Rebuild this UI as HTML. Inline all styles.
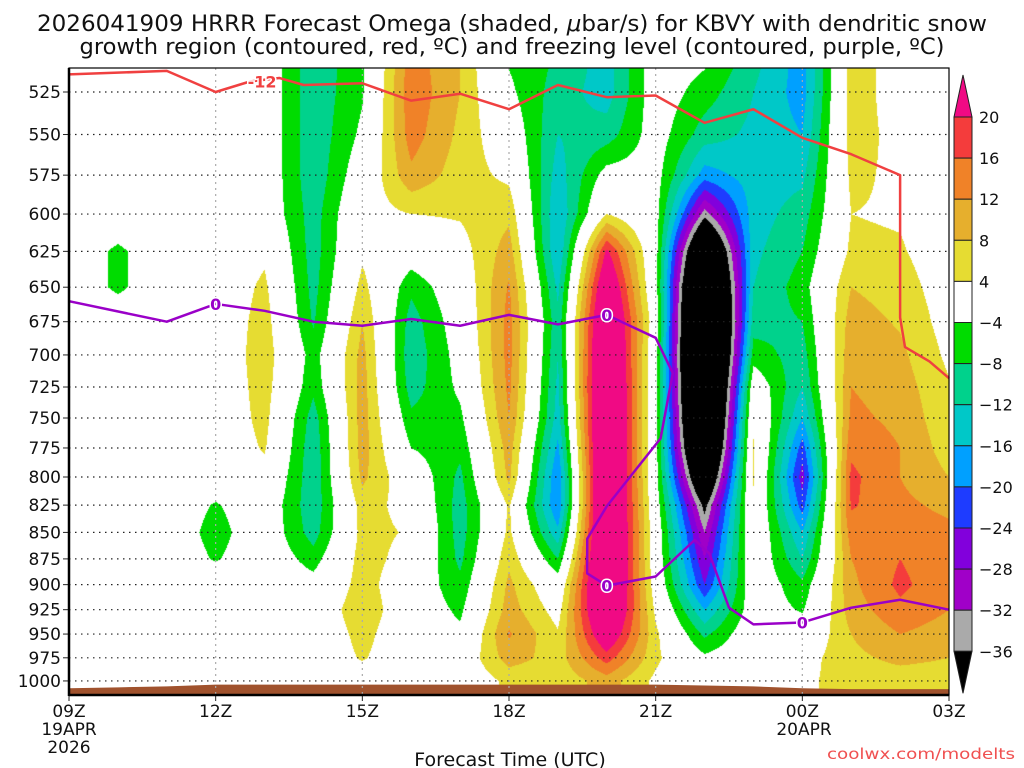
<!DOCTYPE html>
<html><head><meta charset="utf-8"><style>
html,body{margin:0;padding:0;background:#fff;width:1024px;height:768px;overflow:hidden}
#wrap{position:relative;width:1024px;height:768px}
#field{position:absolute;left:69px;top:68px}
#svg{position:absolute;left:0;top:0}
text{font-family:"DejaVu Sans","Liberation Sans",sans-serif;fill:#111}
</style></head><body>
<div id="wrap">
<canvas id="field" width="880" height="627"></canvas>
<svg id="svg" width="1024" height="768"></svg>
</div>
<script>
// ---- data ----
const hours = [9,10,11,12,13,14,15,16,17,18,19,20,21,22,23,24,25,26,27];
const hourLabels = ["09Z","12Z","15Z","18Z","21Z","00Z","03Z"];
const hourLabelVals = [9,12,15,18,21,24,27];
const pressures = [500,525,550,575,600,625,650,675,700,725,750,775,800,825,850,875,900,925,950,975,1000];
const pressureTicks = [525,550,575,600,625,650,675,700,725,750,775,800,825,850,875,900,925,950,975,1000];
const omega09 = [0,0,0,0,0,0,0,0,0,0,0,0,0,0,0,0,0,0,0,0,0];
const omega10 = [0,0,0,0,0,-5,-5,0,0,0,0,0,0,0,0,0,0,0,0,0,0];
const omega11 = [0,0,0,0,0,0,0,0,0,0,0,0,0,0,0,0,0,0,0,0,0];
const omega12 = [0,0,0,0,0,0,0,0,0,0,0,0,0,-4.5,-6,-4.5,0,0,0,0,0];
const omega13 = [0,0,0,0,0,3,5,6,6.5,6,5.5,4.5,2,0,0,0,0,0,0,0,0];
const omega14 = [-11,-11,-11,-11,-10,-10,-9.5,-8.5,-6,-7,-10,-11,-11,-11,-10,-6,-2,0,0,0,0];
const omega15 = [-5,-4.5,-3,-0.5,2,3,5.5,8,9.5,10,10,10,9,6,5.5,6,6,7,5.5,4.5,1];
const omega16 = [14,15,14,11,4,-1,-7,-10,-11,-10,-7,-4,0,2,3.5,2,0,0,0,0,0];
const omega17 = [8,8,7,6,4.5,2,0,-1,-2,-3,-5,-7,-9,-10,-10,-9,-7,-5,-3,0,0];
const omega18 = [-5,-3,0,3,7,10,12.5,13.5,13.5,13,12,10,9,4.5,5,7,9,10,12.5,10,5];
const omega19 = [-8,-10,-12,-14,-16,-16,-13,-11,-12,-13,-14,-17,-20,-20,-15,-8,-1,2,4.5,6,5];
const omega20 = [-14,-14,-10,-2,4,21,28,32,34,35,35,35,35,35,35,35,34,32,26,18,10];
const omega21 = [-1,-1,-1.5,-2,-2,-2,-2,0,-2,-2,-2,-2,-2,-1,0,0,1,3,5,5,3];
const omega22 = [-2,-6,-10,-18,-34,-55,-65,-70,-70,-68,-65,-60,-50,-38,-32,-28,-24,-16,-9,-3,0];
const omega23 = [-10,-12,-13,-14,-14,-13,-12,-10,-6,0,3,4.5,4.5,3,2,1,0,-1,0,0,0];
const omega00 = [-18,-18,-16,-13,-10,-8,-6,-8,-10,-12,-16,-22,-26,-22,-16,-12,-7,-4.5,-1,2,3];
const omega01 = [6,6,6,5,4,5,8,10,11,12,13,15,17,16.5,14,12,11,10,8,7,6];
const omega02 = [2,2,2.5,3,3.5,4.5,6,7.5,9,10,11,12,12,13,14,16,17,15,12,9,6];
const omega03 = [0,0,0.5,1,1,1,1.5,2,3,4.5,5,6,8,11,13,13,13,12,10,8,6];
const redHours = [9,11,12,12.7,13.3,13.8,15,16,17,18,19,20,21,22,23,24,25,26,26.0,26.1,26.6,27];
const redPres  = [515,513,525,519,517,521,520,530,526,535,521,528,527,543,535,552,562,575,672,694,705,718];
const purHours = [9,11,12,13,14,15,16,17,18,19,20,21,21.35,21.1,20.0,19.6,19.6,20.0,21.0,21.8,22.1,22.5,23,24,25,26,27];
const purPres  = [660,675,662,667,675,678,673,678,670,677,670,687,714,767,826,856,889,901,892,857,870,923,940,938,923,915,925];
const sfcPres = [1008,1007,1006,1004,1004,1004,1004,1004,1004,1004,1004,1004,1004,1005,1006,1008,1009,1009,1009];
const levels = [-36,-32,-28,-24,-20,-16,-12,-8,-4,4,8,12,16,20];
const levelColors = ["#000000","#aaaaaa","#a000c8","#8200dc","#1e3cff","#00a0ff","#00c8c8","#00d28c","#00dc00","#ffffff","#e6dc32","#e6af2d","#f08228","#f43c3c","#f00a84"];
const omegaCols = [omega09,omega10,omega11,omega12,omega13,omega14,omega15,omega16,omega17,omega18,omega19,omega20,omega21,omega22,omega23,omega00,omega01,omega02,omega03];

// ---- axes ----
const X0=69, X1=949, Y0=68, Y1=695;
function xOf(h){return X0+(h-9)*(X1-X0)/18;}
function yOf(p){return 92+(Math.log(p)-Math.log(525))*914;}
function pOf(y){return Math.exp(Math.log(525)+(y-92)/914);}
function hOf(x){return 9+(x-X0)*18/(X1-X0);}

// ---- field ----
const cv=document.getElementById('field');const ctx=cv.getContext('2d');
const img=ctx.createImageData(880,627);
const rgb=levelColors.map(c=>[parseInt(c.substr(1,2),16),parseInt(c.substr(3,2),16),parseInt(c.substr(5,2),16)]);
for(let j=0;j<627;j++){
  const p=pOf(Y0+j+0.5);
  let pi=(p-500)/25; if(pi<0)pi=0; if(pi>20)pi=20;
  const i0=Math.min(19,Math.floor(pi)); const fp=pi-i0;
  for(let i=0;i<880;i++){
    let hi=hOf(X0+i+0.5)-9; if(hi<0)hi=0; if(hi>18)hi=18;
    const k0=Math.min(17,Math.floor(hi)); const fh=hi-k0;
    const a=omegaCols[k0][i0]*(1-fp)+omegaCols[k0][i0+1]*fp;
    const b=omegaCols[k0+1][i0]*(1-fp)+omegaCols[k0+1][i0+1]*fp;
    const v=a*(1-fh)+b*fh;
    let li=0;while(li<levels.length&&v>=levels[li])li++;
    const c=rgb[li];const o=(j*880+i)*4;
    img.data[o]=c[0];img.data[o+1]=c[1];img.data[o+2]=c[2];img.data[o+3]=255;
  }
}
ctx.putImageData(img,0,0);

// ---- svg overlay ----
const svg=document.getElementById('svg');const NS='http://www.w3.org/2000/svg';
function mk(tag,attrs,parent){const e=document.createElementNS(NS,tag);for(const k in attrs)e.setAttribute(k,attrs[k]);(parent||svg).appendChild(e);return e;}

// ground
let gpts=[];
for(let k=0;k<hours.length;k++){gpts.push(xOf(hours[k])+','+Math.min(yOf(sfcPres[k]),Y1));}
gpts.push(X1+','+Y1);gpts.push(X0+','+Y1);
const ground=mk('polygon',{points:gpts.join(' '),fill:'#a0522d'});



// grid
for(const p of pressureTicks){
  const g=mk('line',{x1:X0,x2:X1,y1:yOf(p),y2:yOf(p),stroke:'#222','stroke-width':1.2,'stroke-dasharray':'1.5,4.5'});
  
  
  const t=mk('line',{x1:X0-6,x2:X0,y1:yOf(p),y2:yOf(p),stroke:'#222','stroke-width':1});
  
  
  const lb=mk('text',{x:61,y:yOf(p)+6,'text-anchor':'end','font-size':17});
  lb.textContent=p;
  
  
}
for(let k=0;k<hourLabelVals.length;k++){
  const h=hourLabelVals[k];
  if(k>0&&k<hourLabelVals.length-1){
    const g=mk('line',{x1:xOf(h),x2:xOf(h),y1:Y0,y2:Y1,stroke:'#aaa','stroke-width':1.2,'stroke-dasharray':'2,4'});
    
    
  }
  const t=mk('line',{x1:xOf(h),x2:xOf(h),y1:Y1,y2:Y1+6,stroke:'#222','stroke-width':1});
  
  
  const lb=mk('text',{x:xOf(h),y:717,'text-anchor':'middle','font-size':17});
  lb.textContent=hourLabels[k];
  
  
}

// contour lines
function poly(hs,ps,color,name){
  const pts=hs.map((h,i)=>xOf(h)+','+yOf(ps[i])).join(' ');
  const l=mk('polyline',{points:pts,fill:'none',stroke:color,'stroke-width':2.5,'stroke-linejoin':'round'});
  
  
}
poly(redHours,redPres,'#f04040','dgz-minus12-contour');
poly(purHours,purPres,'#9a00c8','freezing-level-contour');
function clabel(h,p,txt,color,name){
  const x=xOf(h),y=yOf(p);
  const t=mk('text',{x:x,y:y+6,'text-anchor':'middle','font-size':16,'font-weight':'bold',style:'fill:'+color+';paint-order:stroke;stroke:#fff;stroke-width:3px'});
  t.textContent=txt;
  
  
}
clabel(12.95,519,'-12','#f04040','label-minus12');
clabel(12,662,'0','#9a00c8','label-zero-1');
clabel(20,670,'0','#9a00c8','label-zero-2');
clabel(20,901,'0','#9a00c8','label-zero-3');
clabel(24,938,'0','#9a00c8','label-zero-4');

// frame
const fr=mk('rect',{x:X0,y:Y0,width:X1-X0,height:Y1-Y0,fill:'none',stroke:'#000','stroke-width':1.2});


const la=mk('line',{x1:X0,x2:X0,y1:Y0,y2:Y1+1,stroke:'#000','stroke-width':2.5});


const ba=mk('line',{x1:X0,x2:X1,y1:Y1,y2:Y1,stroke:'#000','stroke-width':2.5});



// colorbar
const cbx=954,cbw=18,cbTop=117,cbStep=41.1;
for(let i=levels.length-1;i>=0;i--){
  const idx=levels.length-1-i;
  const y=cbTop+idx*cbStep;
  const lb=mk('text',{x:979,y:y+6,'font-size':16});
  lb.textContent=levels[i]<0?'\u2212'+(-levels[i]):String(levels[i]);
  
  
  if(i>0){
    const b=mk('rect',{x:cbx,y:y,width:cbw,height:cbStep,fill:levelColors[i],stroke:'#222','stroke-width':1});
    
    
  }
}
const tri1=mk('polygon',{points:`${cbx},${cbTop} ${cbx+cbw},${cbTop} ${cbx+cbw/2},${cbTop-42}`,fill:levelColors[levels.length],stroke:'#222','stroke-width':1});


const yb=cbTop+(levels.length-1)*cbStep;
const tri2=mk('polygon',{points:`${cbx},${yb} ${cbx+cbw},${yb} ${cbx+cbw/2},${yb+42}`,fill:levelColors[0],stroke:'#222','stroke-width':1});


</script>
<svg width="1024" height="768" style="position:absolute;left:0;top:0;pointer-events:none">
<text x="512" y="31" text-anchor="middle" font-size="22" textLength="950" lengthAdjust="spacingAndGlyphs">2026041909 HRRR Forecast Omega (shaded, <tspan font-style="italic">μ</tspan>bar/s) for KBVY with dendritic snow</text>
<text x="512" y="54" text-anchor="middle" font-size="22" textLength="865" lengthAdjust="spacingAndGlyphs">growth region (contoured, red, ºC) and freezing level (contoured, purple, ºC)</text>
<text x="69" y="735" text-anchor="middle" font-size="17">19APR</text>
<text x="69" y="753" text-anchor="middle" font-size="17">2026</text>
<text x="804" y="735" text-anchor="middle" font-size="17">20APR</text>
<text x="510" y="766" text-anchor="middle" font-size="19">Forecast Time (UTC)</text>
<text x="827" y="759" font-size="15" textLength="188" lengthAdjust="spacingAndGlyphs" style="fill:#f05050">coolwx.com/modelts</text>
</svg>
</body></html>
